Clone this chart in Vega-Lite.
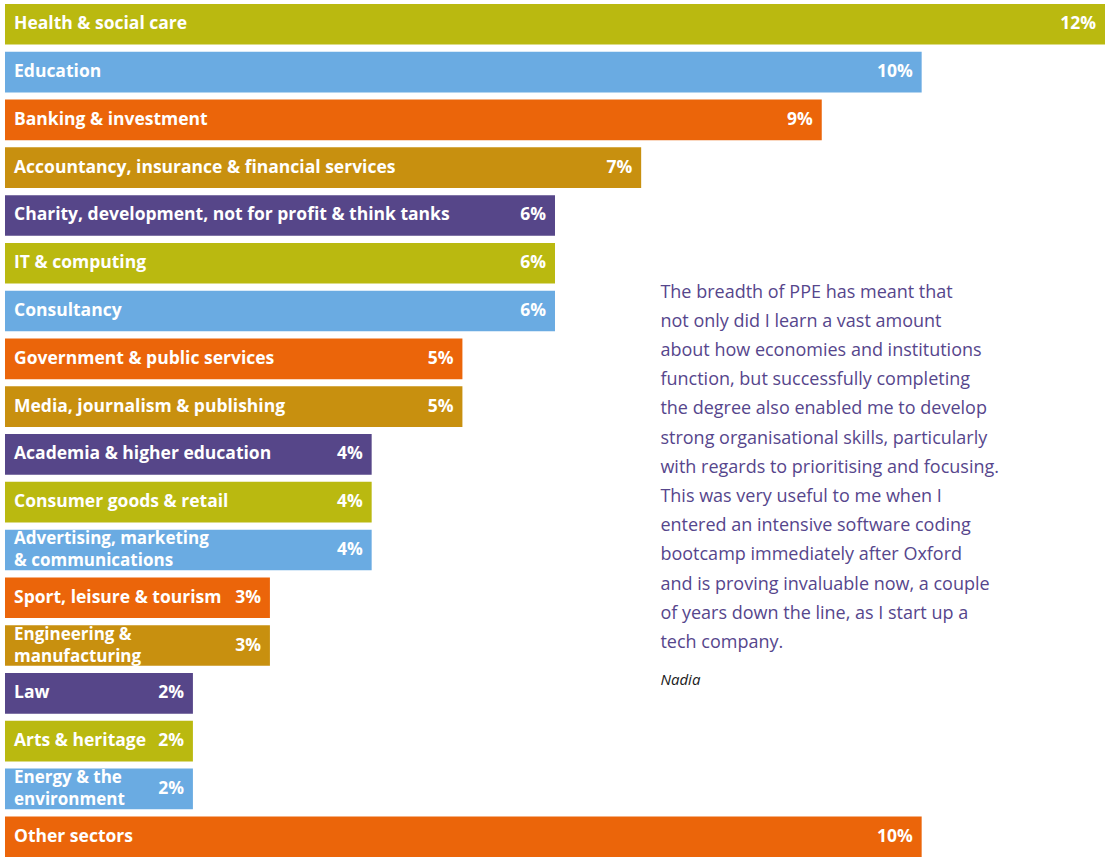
{
  "$schema": "https://vega.github.io/schema/vega-lite/v6.json",
  "width": 1100,
  "height": 853,
  "autosize": {"type": "none"},
  "padding": {"left": 5, "top": 4, "right": 4, "bottom": 0},
  "background": "white",
  "config": {"view": {"stroke": null}},
  "data": {
    "values": [
      {"sector": "Health & social care", "label": "Health & social care", "share": 0.12},
      {"sector": "Education", "label": "Education", "share": 0.10},
      {"sector": "Banking & investment", "label": "Banking & investment", "share": 0.0891},
      {"sector": "Accountancy, insurance & financial services", "label": "Accountancy, insurance & financial services", "share": 0.0694},
      {"sector": "Charity, development, not for profit & think tanks", "label": "Charity, development, not for profit & think tanks", "share": 0.06},
      {"sector": "IT & computing", "label": "IT & computing", "share": 0.06},
      {"sector": "Consultancy", "label": "Consultancy", "share": 0.06},
      {"sector": "Government & public services", "label": "Government & public services", "share": 0.0499},
      {"sector": "Media, journalism & publishing", "label": "Media, journalism & publishing", "share": 0.0499},
      {"sector": "Academia & higher education", "label": "Academia & higher education", "share": 0.04},
      {"sector": "Consumer goods & retail", "label": "Consumer goods & retail", "share": 0.04},
      {"sector": "Advertising, marketing & communications", "label": "Advertising, marketing\n& communications", "share": 0.04},
      {"sector": "Sport, leisure & tourism", "label": "Sport, leisure & tourism", "share": 0.0289},
      {"sector": "Engineering & manufacturing", "label": "Engineering &\nmanufacturing", "share": 0.0289},
      {"sector": "Law", "label": "Law", "share": 0.0205},
      {"sector": "Arts & heritage", "label": "Arts & heritage", "share": 0.0205},
      {"sector": "Energy & the environment", "label": "Energy & the\nenvironment", "share": 0.0205},
      {"sector": "Other sectors", "label": "Other sectors", "share": 0.10}
    ]
  },
  "encoding": {
    "y": {
      "field": "sector",
      "type": "nominal",
      "sort": null,
      "axis": null,
      "scale": {"paddingInner": 0.15, "paddingOuter": 0}
    }
  },
  "layer": [
    {
      "mark": {"type": "bar"},
      "encoding": {
        "x": {
          "field": "share",
          "type": "quantitative",
          "axis": null,
          "scale": {"domain": [0, 0.12], "nice": false, "zero": true}
        },
        "color": {
          "field": "sector",
          "type": "nominal",
          "legend": null,
          "scale": {
            "domain": [
              "Health & social care", "Education", "Banking & investment",
              "Accountancy, insurance & financial services",
              "Charity, development, not for profit & think tanks",
              "IT & computing", "Consultancy", "Government & public services",
              "Media, journalism & publishing", "Academia & higher education",
              "Consumer goods & retail", "Advertising, marketing & communications",
              "Sport, leisure & tourism", "Engineering & manufacturing", "Law",
              "Arts & heritage", "Energy & the environment", "Other sectors"
            ],
            "range": [
              "#bab910", "#6aabe2", "#eb650a", "#c8900f", "#564689",
              "#bab910", "#6aabe2", "#eb650a", "#c8900f", "#564689",
              "#bab910", "#6aabe2", "#eb650a", "#c8900f", "#564689",
              "#bab910", "#6aabe2", "#eb650a"
            ]
          }
        }
      }
    },
    {
      "transform": [{"filter": "indexof(datum.label, '\\n') < 0"}],
      "mark": {
        "type": "text",
        "align": "left",
        "baseline": "middle",
        "dx": 9,
        "font": "Open Sans",
        "fontWeight": "bold",
        "fontSize": 17.5,
        "color": "white"
      },
      "encoding": {
        "x": {"datum": 0, "type": "quantitative"},
        "text": {"field": "label", "type": "nominal"}
      }
    },
    {
      "transform": [{"filter": "indexof(datum.label, '\\n') >= 0"}],
      "mark": {
        "type": "text",
        "align": "left",
        "baseline": "middle",
        "dx": 9,
        "dy": -11,
        "font": "Open Sans",
        "fontWeight": "bold",
        "fontSize": 17,
        "lineHeight": 22,
        "lineBreak": "\n",
        "color": "white"
      },
      "encoding": {
        "x": {"datum": 0, "type": "quantitative"},
        "text": {"field": "label", "type": "nominal"}
      }
    },
    {
      "mark": {
        "type": "text",
        "align": "right",
        "baseline": "middle",
        "dx": -9,
        "font": "Open Sans",
        "fontWeight": "bold",
        "fontSize": 17.5,
        "color": "white"
      },
      "encoding": {
        "x": {"field": "share", "type": "quantitative"},
        "text": {"field": "share", "type": "quantitative", "format": ".0%"}
      }
    },
    {
      "data": {
        "values": [
          {"speaker": "Nadia", "quote": "\u00a0The breadth of PPE has meant that\nnot only did I learn a vast amount\nabout how economies and institutions\nfunction, but successfully completing\nthe degree also enabled me to develop\nstrong organisational skills, particularly\nwith regards to prioritising and focusing.\n\u00a0This was very useful to me when I\nentered an intensive software coding\nbootcamp immediately after Oxford\nand is proving invaluable now, a couple\nof years down the line, as I start up a\ntech company."}
        ]
      },
      "layer": [
        {
          "mark": {
            "type": "text",
            "align": "left",
            "baseline": "top",
            "font": "Open Sans",
            "fontSize": 18,
            "lineHeight": 29.2,
            "lineBreak": "\n",
            "color": "#56468c"
          },
          "encoding": {
            "x": {"datum": 0.0715, "type": "quantitative"},
            "y": {"datum": "IT & computing", "bandPosition": 1},
            "text": {"field": "quote", "type": "nominal"}
          }
        },
        {
          "mark": {
            "type": "text",
            "align": "left",
            "baseline": "top",
            "font": "Open Sans",
            "fontStyle": "italic",
            "fontSize": 15,
            "color": "#1a1a1a"
          },
          "encoding": {
            "x": {"datum": 0.0715, "type": "quantitative"},
            "y": {"datum": "Law", "bandPosition": 0},
            "text": {"field": "speaker", "type": "nominal"}
          }
        }
      ]
    }
  ]
}
